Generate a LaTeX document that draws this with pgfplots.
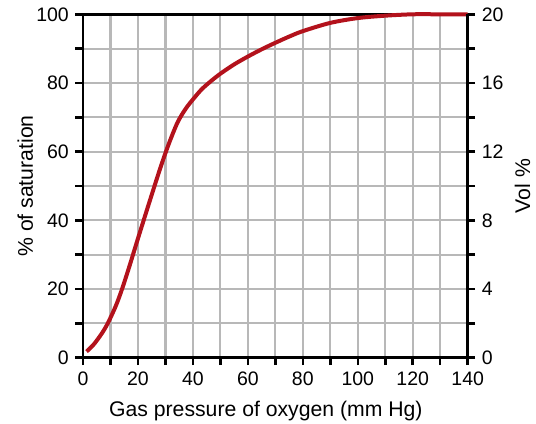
\documentclass[border=0pt]{standalone}
\usepackage{fontspec}
\setmainfont{Liberation Sans}
\usepackage{pgfplots}
\pgfplotsset{compat=1.18}
\definecolor{curvered}{HTML}{B3121C}
\definecolor{gridgray}{HTML}{B8B8B8}
\newcommand{\chartfont}{\fontsize{19.5bp}{23bp}\selectfont}
\newcommand{\labelfont}{\fontsize{21.2bp}{25bp}\selectfont}
\begin{document}
\chartfont
\begin{tikzpicture}
\path[use as bounding box] (-83bp,-66.3bp) rectangle (453bp,357.7bp);
\begin{axis}[
  scale only axis, width=384.7bp, height=343.4bp,
  xmin=0, xmax=140, ymin=0, ymax=100,
  clip=false,
  xtick pos=bottom, ytick pos=left,
  tick align=outside,
  xtick={0,10,...,140}, xticklabels={0,,20,,40,,60,,80,,100,,120,,140},
  ytick={0,10,...,100}, yticklabels={0,,20,,40,,60,,80,,100},
  grid=major, grid style={gridgray, line width=2.2bp},
  axis line style={black, line width=2.5bp},
  every tick/.style={black, line width=2.5bp},
  major tick length=7.5bp,
  /pgf/number format/assume math mode=true,
  tick label style={font=\chartfont},
  every axis x label/.style={at={(axis description cs:0.4753,-0.1698)}, anchor=base, font=\labelfont},
  every axis y label/.style={at={(axis description cs:-0.130,0.5)}, anchor=base, rotate=90, font=\labelfont},
  xlabel={Gas pressure of oxygen (mm Hg)},
  ylabel={\% of saturation},
]
\addplot[curvered, line width=4bp, smooth] coordinates {
  (1.3,1.8) (4,3.95) (7,7.25) (9.2,10.3) (12,15.2) (14.3,20.2) (17,26.9)
  (20,34.7) (24,44.9) (28,54.9) (31,61.8) (34,67.8) (36,70.8) (38,73.2)
  (40,75.2) (43,78) (46.2,80.3) (50,82.7) (55,85.4) (60,87.7) (65,89.8)
  (70,91.7) (75,93.5) (80,95.1) (90,97.5) (100,98.9) (110,99.6)
  (120,100) (130,100) (140,100)
};
\end{axis}
\begin{axis}[
  scale only axis, width=384.7bp, height=343.4bp,
  xmin=0, xmax=140, ymin=0, ymax=20,
  hide x axis, axis y line*=right,
  tick align=outside,
  ytick={0,2,...,20}, yticklabels={0,,4,,8,,12,,16,,20},
  axis line style={black, line width=2.5bp},
  every tick/.style={black, line width=2.5bp},
  major tick length=7.5bp,
  /pgf/number format/assume math mode=true,
  tick label style={font=\chartfont},
  every axis y label/.style={at={(axis description cs:1.162,0.5)}, anchor=base, rotate=90, font=\labelfont},
  ylabel={Vol \%},
]
\addplot[draw=none] coordinates {(0,0) (140,20)};
\end{axis}
\end{tikzpicture}
\end{document}
